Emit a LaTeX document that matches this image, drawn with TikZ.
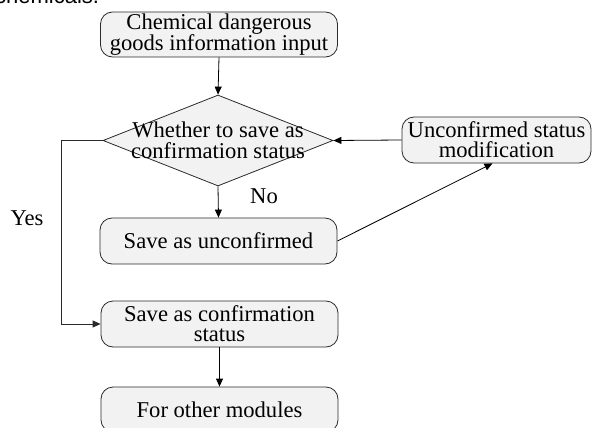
\documentclass[tikz,border=0pt]{standalone}
\usepackage{fontspec}
\setmainfont{Liberation Serif}
\newfontfamily\capfont{Liberation Sans}
\usetikzlibrary{shapes.geometric,arrows.meta}
\definecolor{boxfill}{HTML}{F2F2F2}
\definecolor{edge}{HTML}{2A2A2A}
\tikzset{
  stepbox/.style={draw=edge, fill=boxfill, rounded corners=12pt, line width=0.8pt,
    minimum width=237pt, minimum height=45pt, inner sep=0pt, align=center,
    font=\fontsize{22.6}{20}\selectfont},
  choice/.style={draw=edge, fill=boxfill, diamond, line width=0.8pt,
    minimum width=230pt, minimum height=91pt, inner sep=0pt},
  choicetext/.style={align=center, inner sep=0pt, font=\fontsize{22.6}{21.5}\selectfont},
  lbl/.style={inner sep=0pt, font=\fontsize{22.6}{20}\selectfont},
  flow/.style={draw=black, line width=0.8pt, -{Triangle[length=8pt,width=7pt]}},
}
\begin{document}
\begin{tikzpicture}[x=1pt,y=-1pt]
\useasboundingbox (0,0) rectangle (592,428);
\clip (0,0) rectangle (592,428);

% caption fragment running into the top edge
\node[anchor=base west, inner sep=0pt, font=\capfont\fontsize{22}{24}\selectfont] (cap) at (-5,4) {chemicals.};

% process boxes
\node[stepbox] (in)   at (219,34.5) {Chemical dangerous\\goods information input};
\node[choice]  (dec)  at (218,140.5) {};
\node[choicetext] (dectext) at (218,140.5) {Whether to save as\\confirmation status};
\node[stepbox, minimum width=189pt, minimum height=46pt] (mod) at (496.5,140) {Unconfirmed status\\modification};
\node[stepbox, minimum height=46pt] (unc)  at (218.5,241) {Save as unconfirmed};
\node[stepbox, minimum height=46pt] (conf) at (219.5,324) {Save as confirmation\\status};
\node[stepbox] (oth)  at (219.5,409.5) {For other modules};

% branch labels
\node[lbl] (no)  at (264,196) {No};
\node[lbl] (yes) at (27,218) {Yes};

% connectors
\coordinate (yk) at (61,140.5);
\draw[flow] (in.south) -- (dec.north);
\draw[flow] (mod.west) -- (dec.east);
\draw[flow] (dec.south) -- (unc.north);
\draw[flow] (unc.east) -- ([xshift=-4pt]mod.south);
\draw[flow, draw=edge] (dec.west) -- (yk) |- (conf.west);
\draw[flow] (conf.south) -- (oth.north);
\end{tikzpicture}
\end{document}
